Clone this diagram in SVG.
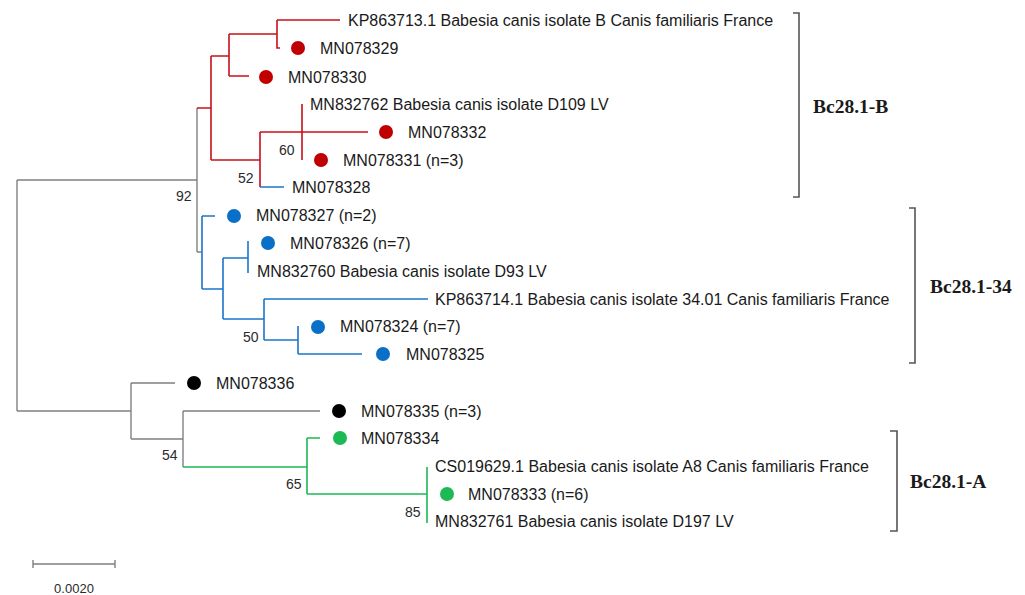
<svg xmlns="http://www.w3.org/2000/svg" width="1025" height="595" viewBox="0 0 1025 595">
<style>
.g{stroke:#808080;stroke-width:1.4;fill:none}
.r{stroke:#c8101a;stroke-width:1.6;fill:none}
.b{stroke:#1b75c9;stroke-width:1.6;fill:none}
.gr{stroke:#1db954;stroke-width:1.6;fill:none}
.br{stroke:#555;stroke-width:1.6;fill:none}
.t{font-family:"Liberation Sans",Arial,sans-serif;font-size:16px;fill:#1a1a1a}
.n{font-family:"Liberation Sans",Arial,sans-serif;font-size:14px;fill:#2a2a2a}
.c{font-family:"Liberation Serif","Times New Roman",serif;font-size:19.5px;font-weight:bold;fill:#1a1a1a}
.dr{fill:#c00000}.db{fill:#0a6fc6}.dg{fill:#1db954}.dk{fill:#000}
</style>
<rect width="1025" height="595" fill="#fff"/>
<g id="connectors">
<path class="g" d="M17,180V411M17,180H197M17,411H131M197,108V252M197,252H202M131,383V439M131,383H175M131,439H183M183,411V467M183,411H320"/>
<path class="r" d="M197,108H211M211,56V160M211,56H229M229,34V76M229,34H277M277,20V48H280M277,20H340M229,76H249M211,160H260M260,132V187M260,132H368M302,104V160"/>
<path class="b" d="M260,187H284M202,216V289M202,216H215M202,289H223M223,258V319M223,258H248M248,241V273M223,319H264M264,299V340M264,299H428M264,340H298M298,326V354M298,354H362"/>
<path class="gr" d="M183,467H307M307,438V494M307,438H320M307,494H427M427,467V523"/>
<path class="g" d="M33,564H115M33,560V568M115,560V568"/>
</g>
<g id="brackets">
<path class="br" d="M793,13H799V197H793"/>
<path class="br" d="M909,208H915V363H909"/>
<path class="br" d="M890,431H897V531H890"/>
<text class="c" x="813" y="113">Bc28.1-B</text>
<text class="c" x="930" y="293">Bc28.1-34</text>
<text class="c" x="910" y="488">Bc28.1-A</text>
</g>
<g id="bootstrap">
<text class="n" x="176" y="201">92</text>
<text class="n" x="238" y="183">52</text>
<text class="n" x="279" y="155">60</text>
<text class="n" x="243" y="342">50</text>
<text class="n" x="162" y="460">54</text>
<text class="n" x="286" y="489">65</text>
<text class="n" x="405" y="517">85</text>
</g>
<g id="scale"><text class="n" x="74" y="593" text-anchor="middle" style="font-size:13px">0.0020</text></g>
<g id="KP863713"><text class="t" x="348" y="26">KP863713.1 Babesia canis isolate B Canis familiaris France</text></g>
<g id="MN078329"><circle class="dr" cx="298" cy="48" r="7"/><text class="t" x="320" y="54">MN078329</text></g>
<g id="MN078330"><circle class="dr" cx="266" cy="77" r="7"/><text class="t" x="288" y="83">MN078330</text></g>
<g id="MN832762"><text class="t" x="310" y="110">MN832762 Babesia canis isolate D109 LV</text></g>
<g id="MN078332"><circle class="dr" cx="386" cy="132" r="7"/><text class="t" x="408" y="138">MN078332</text></g>
<g id="MN078331"><circle class="dr" cx="321" cy="160" r="7"/><text class="t" x="343" y="166">MN078331 (n=3)</text></g>
<g id="MN078328"><text class="t" x="292" y="193">MN078328</text></g>
<g id="MN078327"><circle class="db" cx="234" cy="216" r="7"/><text class="t" x="256" y="221">MN078327 (n=2)</text></g>
<g id="MN078326"><circle class="db" cx="268" cy="243" r="7"/><text class="t" x="290" y="249">MN078326 (n=7)</text></g>
<g id="MN832760"><text class="t" x="257" y="277">MN832760 Babesia canis isolate D93 LV</text></g>
<g id="KP863714"><text class="t" x="435" y="305">KP863714.1 Babesia canis isolate 34.01 Canis familiaris France</text></g>
<g id="MN078324"><circle class="db" cx="318" cy="327" r="7"/><text class="t" x="340" y="332">MN078324 (n=7)</text></g>
<g id="MN078325"><circle class="db" cx="383" cy="354" r="7"/><text class="t" x="406" y="360">MN078325</text></g>
<g id="MN078336"><circle class="dk" cx="194" cy="383" r="7"/><text class="t" x="216" y="389">MN078336</text></g>
<g id="MN078335"><circle class="dk" cx="339" cy="411" r="7"/><text class="t" x="361" y="417">MN078335 (n=3)</text></g>
<g id="MN078334"><circle class="dg" cx="340" cy="438" r="7"/><text class="t" x="361" y="444">MN078334</text></g>
<g id="CS019629"><text class="t" x="435" y="472">CS019629.1 Babesia canis isolate A8 Canis familiaris France</text></g>
<g id="MN078333"><circle class="dg" cx="447" cy="494" r="7"/><text class="t" x="468" y="500">MN078333 (n=6)</text></g>
<g id="MN832761"><text class="t" x="435" y="527">MN832761 Babesia canis isolate D197 LV</text></g>
</svg>
